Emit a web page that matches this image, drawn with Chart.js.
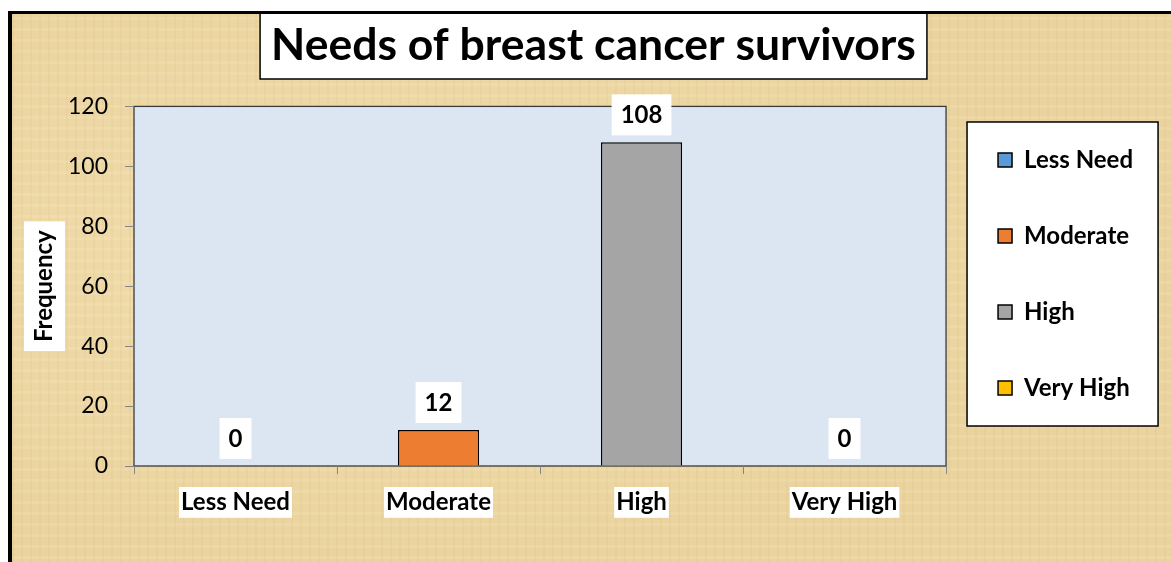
<!DOCTYPE html>
<html>
<head>
<meta charset="utf-8">
<script src="https://cdn.jsdelivr.net/npm/chart.js@4"></script>
<style>
  html, body { margin: 0; padding: 0; background: #fff; overflow: hidden; }
  #frame {
    position: absolute; left: 8px; top: 11px; width: 1200px; height: 600px;
    border-left: 4px solid #000; border-top: 3px solid #000;
    background-color: #ead39e;
    background-image:
      repeating-linear-gradient(90deg, rgba(170,135,70,0.06) 0 2px, transparent 2px 9px),
      repeating-linear-gradient(0deg, rgba(255,250,220,0.12) 0 3px, transparent 3px 11px),
      radial-gradient(ellipse at 30% 40%, rgba(255,240,200,0.35), transparent 60%);
  }
  #wrap { position: absolute; left: 12px; top: 14px; width: 1159px; height: 548px; }
</style>
</head>
<body>
<div id="frame"></div>
<div id="wrap"><canvas id="needsChart"></canvas></div>
<script>
const categories = ["Less Need", "Moderate", "High", "Very High"];
const frequency = [0, 12, 108, 0];
const barColors = ["#5b9bd5", "#ed7d31", "#a5a5a5", "#ffc000"];
const yTicks = [0, 20, 40, 60, 80, 100, 120];

const FONT = "Lato";
const TITLE_SIZE = 44.5;

// white boxes behind title, axis title and legend, light blue plot area
const boxes = {
  id: "boxes",
  afterLayout(chart) {
    // title sits a bit right of the canvas centre
    chart.titleBlock.left += 32;
  },
  beforeDraw(chart) {
    const ctx = chart.ctx;
    const a = chart.chartArea;
    ctx.save();
    ctx.lineWidth = 1.5;
    ctx.strokeStyle = "#000";
    ctx.fillStyle = "#fff";

    // title box
    const t = chart.titleBlock;
    ctx.font = "bold " + TITLE_SIZE + "px " + FONT;
    const tw = ctx.measureText(chart.options.plugins.title.text).width;
    const tcx = (t.left + t.right) / 2;
    ctx.fillRect(tcx - tw / 2 - 11, -1, tw + 22, 66);
    ctx.strokeRect(tcx - tw / 2 - 11, -1, tw + 22, 66);

    // y axis title box
    ctx.font = "bold 24px " + FONT;
    const yw = ctx.measureText("Frequency").width;
    const cy = (a.top + a.bottom) / 2;
    ctx.fillRect(12, cy - yw / 2 - 9, 41, yw + 18);

    // legend box
    const lg = chart.legend;
    const hb = lg.legendHitBoxes;
    const top = hb[0].top - 26;
    const bottom = hb[hb.length - 1].top + hb[hb.length - 1].height + 26;
    ctx.fillRect(lg.left + 21, top, 191, bottom - top);
    ctx.strokeRect(lg.left + 21, top, 191, bottom - top);

    // plot area
    ctx.fillStyle = "#dce6f2";
    ctx.fillRect(a.left, a.top, a.right - a.left, a.bottom - a.top);
    ctx.strokeStyle = "#3a3a3a";
    ctx.lineWidth = 1.3;
    ctx.strokeRect(a.left, a.top, a.right - a.left, a.bottom - a.top);
    ctx.restore();
  }
};

// value labels in white boxes above each bar
const valueLabels = {
  id: "valueLabels",
  afterDatasetsDraw(chart) {
    const ctx = chart.ctx;
    const meta = chart.getDatasetMeta(0);
    ctx.save();
    ctx.font = "bold 24px " + FONT;
    ctx.textAlign = "center";
    ctx.textBaseline = "middle";
    meta.data.forEach((bar, i) => {
      const txt = String(frequency[i]);
      const w = ctx.measureText(txt).width + 18;
      const y = bar.y - 28;
      ctx.fillStyle = "#fff";
      ctx.fillRect(bar.x - w / 2, y - 20, w, 41);
      ctx.fillStyle = "#000";
      ctx.fillText(txt, bar.x, y + 1);
    });
    ctx.restore();
  }
};

new Chart(document.getElementById("needsChart"), {
  type: "bar",
  data: {
    labels: categories,
    datasets: [{
      label: "Frequency",
      data: frequency,
      backgroundColor: barColors,
      borderColor: "#000",
      borderWidth: 1.5,
      barPercentage: 0.4,
      categoryPercentage: 1
    }]
  },
  options: {
    responsive: true,
    maintainAspectRatio: false,
    animation: false,
    layout: { padding: { left: 0, right: 28, top: 0, bottom: 28 } },
    plugins: {
      title: {
        display: true,
        text: "Needs of breast cancer survivors",
        color: "#000",
        font: { family: FONT, size: TITLE_SIZE, weight: "bold" },
        padding: { top: 5, bottom: 34 }
      },
      legend: {
        position: "right",
        labels: {
          color: "#000",
          font: { family: FONT, size: 24, weight: "bold" },
          boxWidth: 14,
          boxHeight: 14,
          padding: 52,
          generateLabels: () => categories.map((c, i) => ({
            text: c,
            fillStyle: barColors[i],
            strokeStyle: "#000",
            lineWidth: 1.5,
            fontColor: "#000",
            index: i
          }))
        }
      },
      tooltip: { enabled: false }
    },
    scales: {
      x: {
        afterFit: s => { s.height = 68; },
        border: { display: false },
        grid: { drawOnChartArea: false, drawTicks: true, tickLength: 8, color: "#868686", offset: true },
        ticks: {
          color: "#000",
          font: { family: FONT, size: 24, weight: "bold" },
          padding: 14,
          showLabelBackdrop: true,
          backdropColor: "#fff",
          backdropPadding: { x: 2, y: 1 }
        }
      },
      y: {
        min: 0,
        max: 120,
        afterFit: s => { s.width = 122; },
        afterBuildTicks: s => { s.ticks = yTicks.map(v => ({ value: v })); },
        border: { display: false },
        grid: { drawOnChartArea: false, drawTicks: true, tickLength: 9, color: "#868686" },
        ticks: {
          color: "#000",
          font: { family: FONT, size: 23 },
          padding: 17
        },
        title: {
          display: true,
          text: "Frequency",
          color: "#000",
          font: { family: FONT, size: 24, weight: "bold" },
          padding: { top: 18, bottom: 0 }
        }
      }
    }
  },
  plugins: [boxes, valueLabels]
});
</script>
</body>
</html>
